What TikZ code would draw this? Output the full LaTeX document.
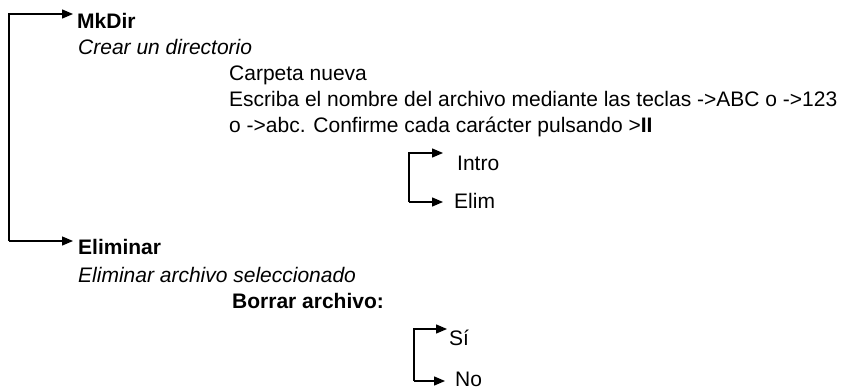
\documentclass[tikz,border=0pt]{standalone}
\usepackage{fontspec}
\setmainfont{Liberation Sans}
\usetikzlibrary{arrows.meta}
\newcommand\lblsize{\fontsize{21}{26}\selectfont}

\begin{document}
\begin{tikzpicture}[x=1pt,y=-1pt,
    txt/.style={anchor=base west,inner sep=0pt,font=\lblsize},
    head/.style={txt,font=\lblsize\bfseries},
    note/.style={txt,font=\lblsize\itshape},
    arr/.style={-{Triangle[length=11pt,width=9pt]},line width=1.3pt}]
  \useasboundingbox (0,0) rectangle (854,391);
  % MkDir
  \node[head] (mkdir) at (77,28) {MkDir};
  \node[note] (mkdirdesc) at (78,54) {Crear un directorio};
  \node[txt] (carpeta) at (229,80) {Carpeta nueva};
  \node[txt] (escriba) at (229,106) {Escriba el nombre del archivo mediante las teclas ->ABC o ->123};
  \node[txt] (confirm) at (229,132) {o ->abc. Confirme cada carácter pulsando >\textbf{II}};
  \node[txt] (intro) at (457,170) {Intro};
  \node[txt] (elim) at (454,208) {Elim};
  % Eliminar
  \node[head] (eliminar) at (78,254) {Eliminar};
  \node[note] (elimdesc) at (78,282) {Eliminar archivo seleccionado};
  \node[head] (borrar) at (232,308) {Borrar archivo:};
  \node[txt] (si) at (449,345) {Sí};
  \node[txt] (no) at (455,386) {No};
  % connectors
  \coordinate (trunk) at (9,241);
  \draw[arr] (trunk) |- ([xshift=-4pt,yshift=14pt]mkdir.base west);
  \draw[arr] (trunk) -- ([xshift=-5pt,yshift=13pt]eliminar.base west);
  \coordinate (fork1) at (409,202);
  \draw[arr] (fork1) |- ([xshift=-14pt,yshift=17pt]intro.base west);
  \draw[arr] (fork1) -- ([xshift=-11pt,yshift=6pt]elim.base west);
  \coordinate (fork2) at (414,381);
  \draw[arr] (fork2) |- ([xshift=-2pt,yshift=16pt]si.base west);
  \draw[arr] (fork2) -- ([xshift=-10pt,yshift=5pt]no.base west);
\end{tikzpicture}
\end{document}
